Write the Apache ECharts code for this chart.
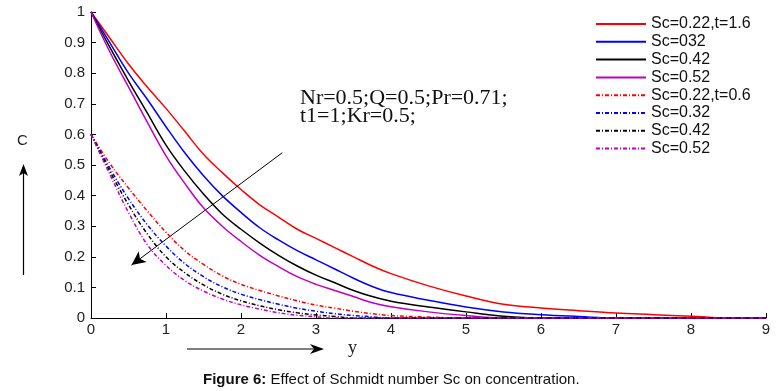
<!DOCTYPE html>
<html>
<head>
<meta charset="utf-8">
<script src="https://cdn.jsdelivr.net/npm/echarts@6/dist/echarts.min.js"></script>
<style>
  html, body { margin: 0; padding: 0; background: #fff; }
  #main { width: 778px; height: 391px; }
</style>
</head>
<body>
<div id="main"></div>
<script>
// y positions (shared by all curves)
var ys = [0, 0.25, 0.5, 0.75, 1, 1.25, 1.5, 1.75, 2, 2.25, 2.5, 2.75, 3, 3.25, 3.5, 3.75, 4, 4.5, 5, 5.5, 6, 6.5, 7, 7.5, 8, 8.5, 9];

// t = 1.6 (solid)
var sc022_t16 = [1, 0.915, 0.83, 0.755, 0.685, 0.61, 0.535, 0.475, 0.42, 0.37, 0.33, 0.29, 0.26, 0.23, 0.2, 0.17, 0.145, 0.105, 0.072, 0.045, 0.033, 0.024, 0.016, 0.011, 0.006, 0, 0];
var sc032_t16 = [1, 0.9, 0.8, 0.715, 0.625, 0.54, 0.465, 0.4, 0.345, 0.295, 0.255, 0.22, 0.19, 0.16, 0.13, 0.103, 0.083, 0.058, 0.036, 0.02, 0.011, 0.005, 0, 0, 0, 0, 0];
var sc042_t16 = [1, 0.885, 0.775, 0.67, 0.565, 0.48, 0.405, 0.34, 0.29, 0.245, 0.205, 0.17, 0.14, 0.115, 0.09, 0.07, 0.055, 0.036, 0.02, 0.006, 0, 0, 0, 0, 0, 0, 0];
var sc052_t16 = [1, 0.87, 0.755, 0.64, 0.53, 0.44, 0.36, 0.3, 0.25, 0.205, 0.168, 0.135, 0.11, 0.09, 0.07, 0.05, 0.037, 0.02, 0.008, 0, 0, 0, 0, 0, 0, 0, 0];

// t = 0.6 (dotted)
var sc022_t06 = [0.6, 0.505, 0.425, 0.35, 0.28, 0.22, 0.175, 0.138, 0.11, 0.09, 0.072, 0.056, 0.042, 0.032, 0.022, 0.014, 0.008, 0.003, 0, 0, 0, 0, 0, 0, 0, 0, 0];
var sc032_t06 = [0.6, 0.49, 0.39, 0.305, 0.235, 0.178, 0.135, 0.102, 0.078, 0.06, 0.045, 0.032, 0.022, 0.014, 0.008, 0.004, 0, 0, 0, 0, 0, 0, 0, 0, 0, 0, 0];
var sc042_t06 = [0.6, 0.48, 0.37, 0.275, 0.2, 0.148, 0.108, 0.078, 0.056, 0.04, 0.027, 0.017, 0.01, 0.005, 0, 0, 0, 0, 0, 0, 0, 0, 0, 0, 0, 0, 0];
var sc052_t06 = [0.6, 0.47, 0.345, 0.24, 0.172, 0.122, 0.088, 0.062, 0.043, 0.029, 0.017, 0.009, 0.004, 0, 0, 0, 0, 0, 0, 0, 0, 0, 0, 0, 0, 0, 0];

var names = ['Sc=0.22,t=1.6', 'Sc=032', 'Sc=0.42', 'Sc=0.52', 'Sc=0.22,t=0.6', 'Sc=0.32', 'Sc=0.42 ', 'Sc=0.52 '];
var colors = ['#ff0000', '#0000ff', '#000000', '#c000c0', '#ff0000', '#0000ff', '#000000', '#c000c0'];
var values = [sc022_t16, sc032_t16, sc042_t16, sc052_t16, sc022_t06, sc032_t06, sc042_t06, sc052_t06];

// arrow across the curves (data coords)
var arrowFrom = [2.55, 0.54];
var arrowTo = [0.54, 0.173];

var sans = 'Liberation Sans, Arial, sans-serif';
var serif = 'Liberation Serif, Times New Roman, serif';

var myChart = echarts.init(document.getElementById('main'));

var series = [];
for (var i = 0; i < values.length; i++) {
    var pts = [];
    for (var j = 0; j < ys.length; j++) {
        pts.push([ys[j], values[i][j]]);
    }
    series.push({
        name: names[i],
        type: 'line',
        data: pts,
        symbol: 'none',
        showSymbol: false,
        smooth: 0.4,
        color: colors[i],
        lineStyle: {
            color: colors[i],
            width: 1.5,
            type: i < 4 ? 'solid' : [4, 2, 1, 2]
        },
        z: 2 + i
    });
}
series[0].markLine = {
    silent: true,
    symbol: ['none', 'arrow'],
    symbolSize: [10, 14],
    label: { show: false },
    lineStyle: { color: '#000', width: 1, type: 'solid' },
    data: [[{ coord: arrowFrom }, { coord: arrowTo }]]
};

var option = {
    backgroundColor: '#fff',
    animation: false,
    grid: { left: 91, right: 12, top: 12, bottom: 73 },
    legend: {
        orient: 'vertical',
        left: 590,
        top: 11,
        itemWidth: 50,
        itemHeight: 14,
        itemGap: 1.8,
        data: names,
        itemStyle: { opacity: 0 },
        textStyle: { fontFamily: sans, fontSize: 16, color: '#111' }
    },
    xAxis: {
        type: 'value',
        min: 0,
        max: 9,
        interval: 1,
        splitLine: { show: false },
        axisLine: { lineStyle: { color: '#000', width: 1 } },
        axisTick: { inside: true, length: 5, lineStyle: { color: '#000' } },
        axisLabel: { fontFamily: sans, fontSize: 15, color: '#222', margin: 4 }
    },
    yAxis: {
        type: 'value',
        min: 0,
        max: 1,
        interval: 0.1,
        splitLine: { show: false },
        axisLine: { show: true, lineStyle: { color: '#000', width: 1 } },
        axisTick: { show: true, inside: true, length: 5, lineStyle: { color: '#000' } },
        axisLabel: { fontFamily: sans, fontSize: 15, color: '#222', margin: 6 }
    },
    graphic: [
        { type: 'text', left: 300, top: 87, style: { text: 'Nr=0.5;Q=0.5;Pr=0.71;', font: '22px ' + serif, fill: '#111' } },
        { type: 'text', left: 300, top: 105, style: { text: 't1=1;Kr=0.5;', font: '22px ' + serif, fill: '#111' } },
        { type: 'text', left: 17, top: 133, style: { text: 'C', font: '15px ' + sans, fill: '#222' } },
        { type: 'line', shape: { x1: 23.5, y1: 275, x2: 23.5, y2: 170 }, style: { stroke: '#000', lineWidth: 1.2 } },
        { type: 'polygon', shape: { points: [[23.5, 164], [19, 176], [23.5, 173], [28, 176]] }, style: { fill: '#000' } },
        { type: 'line', shape: { x1: 187, y1: 349, x2: 316, y2: 349 }, style: { stroke: '#000', lineWidth: 1.2 } },
        { type: 'polygon', shape: { points: [[324, 349], [310, 344], [314, 349], [310, 354]] }, style: { fill: '#000' } },
        { type: 'text', left: 348, top: 339, style: { text: 'y', font: '18px ' + serif, fill: '#222' } },
        {
            type: 'text', left: 203, top: 372,
            style: {
                text: '{b|Figure 6:} Effect of Schmidt number Sc on concentration.',
                font: '15px ' + sans, fill: '#111',
                rich: { b: { fontWeight: 'bold', fontFamily: sans, fontSize: 15, fill: '#111' } }
            }
        }
    ],
    series: series
};
myChart.setOption(option);
</script>
</body>
</html>
